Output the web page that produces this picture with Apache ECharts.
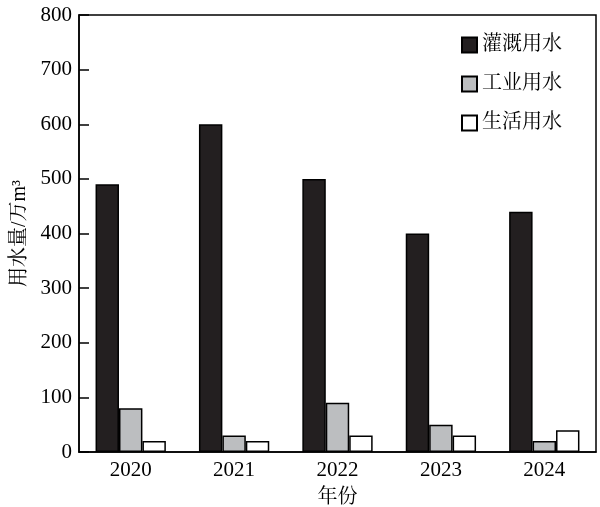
<!DOCTYPE html>
<html><head><meta charset="utf-8">
<script src="https://cdn.jsdelivr.net/npm/echarts@6/dist/echarts.min.js"></script>
<style>html,body{margin:0;padding:0;background:#fff}#c{width:600px;height:507px}</style>
</head><body><div id="c"></div>
<script>
const categories = ['2020','2021','2022','2023','2024'];
const seriesNames = ['灌溉用水','工业用水','生活用水'];
const irrigation = [490, 600, 500, 400, 440];
const industry = [80, 30, 90, 50, 20];
const domestic = [20, 20, 30, 30, 40];
const yTicks = [0,100,200,300,400,500,600,700,800];

const FONT = '"Liberation Serif","Noto Serif CJK SC","Noto Sans CJK SC",serif';
const colors = ['#231f20','#bcbec0','#ffffff'];
const chart = echarts.init(document.getElementById('c'), null, {renderer:'canvas'});
const mk = (name, data, i) => ({
  name, type:'bar', data, barGap:'0%', barCategoryGap:'32%',
  itemStyle:{color:colors[i], borderColor:'#000', borderWidth:1.5},
  emphasis:{disabled:true}
});
chart.setOption({
  animation:false,
  textStyle:{fontFamily:FONT},
  grid:{left:79, right:4, top:15, bottom:55, outerBoundsMode:'none', containLabel:false,
        show:true, borderColor:'#000', borderWidth:1.5},
  legend:{
    orient:'vertical', right:33, top:30, itemWidth:15, itemHeight:15, itemGap:19,
    textStyle:{fontFamily:FONT, fontSize:20, color:'#000'},
    icon:'rect', data:seriesNames
  },
  xAxis:{
    type:'category', data:categories,
    axisLine:{lineStyle:{color:'#000', width:1.5}},
    axisTick:{show:false},
    axisLabel:{fontFamily:FONT, fontSize:21, color:'#000', margin:8},
    name:'年份', nameLocation:'middle', nameGap:36,
    nameTextStyle:{fontFamily:FONT, fontSize:20, color:'#000'}
  },
  yAxis:{
    type:'value', min:yTicks[0], max:yTicks[yTicks.length-1], interval:100,
    axisLine:{show:true, lineStyle:{color:'#000', width:1.5}},
    axisTick:{show:true, inside:true, length:10, lineStyle:{color:'#000', width:1.5}},
    splitLine:{show:false},
    axisLabel:{fontFamily:FONT, fontSize:21, color:'#000', margin:7},
    name:'用水量/万m³', nameLocation:'middle', nameGap:48, nameRotate:90,
    nameTextStyle:{fontFamily:FONT, fontSize:20, color:'#000'}
  },
  series:[mk(seriesNames[0], irrigation, 0), mk(seriesNames[1], industry, 1), mk(seriesNames[2], domestic, 2)]
});
</script></body></html>
